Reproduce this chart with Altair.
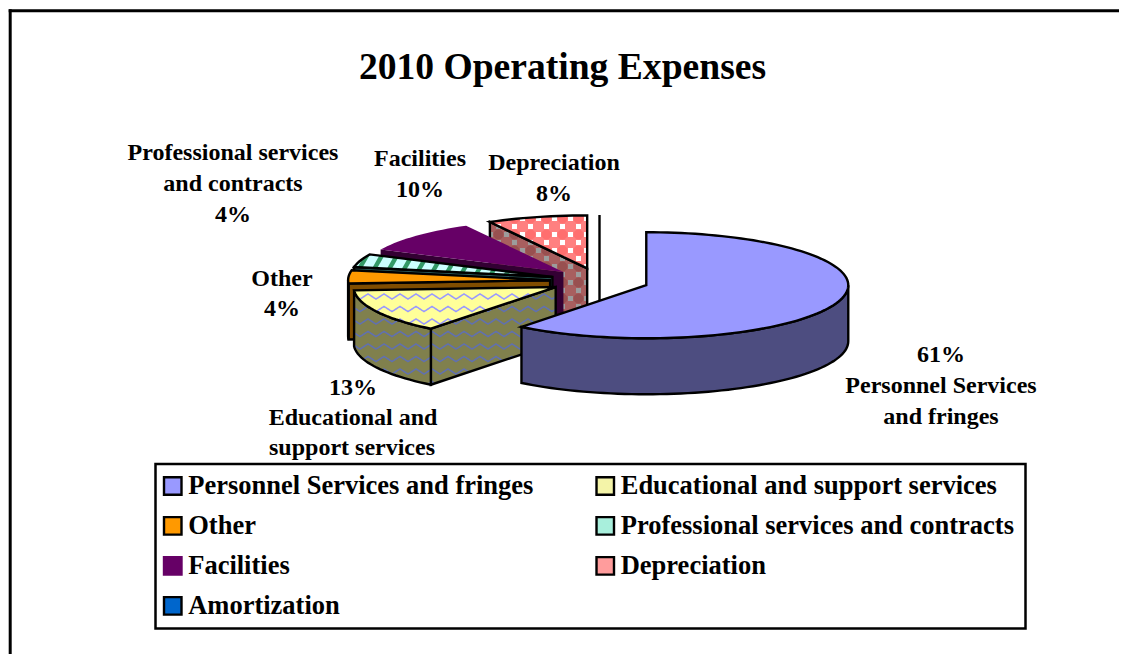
import math
import altair as alt

# ---- data ----
NAMES = ["Personnel Services and fringes", "Educational and support services", "Other",
         "Professional services and contracts", "Facilities", "Depreciation", "Amortization"]
VALUES = [60.6, 13.4, 4, 4, 10, 8, 0]
LEGEND_COLORS = ["#9999FF", "#F4F4A8", "#FF9900", "#A8EFDC", "#660066", "#FF9C9C", "#0066CC"]
LEGEND_STROKES = ["#000000", "#000000", "#000000", "#000000", "#660066", "#000000", "#000000"]
TOPS = ["#9999FF", "#FFFF99", "#FF9900", "#CCFFFF", "#660066", "#FF8080", "#0066CC"]
SIDES = ["#4D4D80", "#80804D", "#804D00", "#2F5F5F", "#330033", "#A85F5F", "#003366"]
OUTLINE = ["#000000", "#000000", "#000000", "#000000", "none", "#000000", "#000000"]
TITLE = "2010 Operating Expenses"
PCT = [f"{round(v)}%" for v in VALUES]
LABELS = [
    ("Professional services", 225, 145), ("and contracts", 225, 176), (PCT[3], 225, 207),
    ("Facilities", 412, 151), (PCT[4], 412, 182),
    ("Depreciation", 546, 155), (PCT[5], 546, 186),
    ("Other", 274, 271), (PCT[2], 274, 301),
    (PCT[1], 345, 380), ("Educational and", 345, 410), ("support services", 344, 440),
    (PCT[0], 933, 347), ("Personnel Services", 933, 378), ("and fringes", 933, 409),
]
FONT = "Liberation Serif"

# ---- exploded 3-D pie geometry, all in chart pixels ----
CX, CY, RX, RY, DEPTH, EXPLODE = 591.5, 273.0, 202.0, 53.0, 56.0, 0.245
LINE_W = 2.4


def pt(c, a):
    r = math.radians(a)
    return (c[0] + RX * math.sin(r), c[1] - RY * math.cos(r))


def down(p):
    return (p[0], p[1] + DEPTH)


def clip_convex(subject, poly):
    gx = sum(p[0] for p in poly) / len(poly)
    gy = sum(p[1] for p in poly) / len(poly)
    out = list(subject)
    n = len(poly)
    for i in range(n):
        a, b = poly[i], poly[(i + 1) % n]
        if abs(a[0] - b[0]) + abs(a[1] - b[1]) < 1e-6:
            continue
        side = lambda p: (b[0] - a[0]) * (p[1] - a[1]) - (b[1] - a[1]) * (p[0] - a[0])
        sg = 1 if side((gx, gy)) >= 0 else -1
        res = []
        for j in range(len(out)):
            p, q = out[j], out[(j + 1) % len(out)]
            sp, sq = side(p) * sg, side(q) * sg
            if sp >= 0:
                res.append(p)
            if (sp >= 0) != (sq >= 0):
                t = sp / (sp - sq)
                res.append((p[0] + t * (q[0] - p[0]), p[1] + t * (q[1] - p[1])))
        out = res
        if not out:
            return []
    return out


def inside(p, poly):
    hit = False
    n = len(poly)
    for i in range(n):
        a, b = poly[i], poly[(i + 1) % n]
        if (a[1] > p[1]) != (b[1] > p[1]):
            if p[0] < a[0] + (p[1] - a[1]) * (b[0] - a[0]) / (b[1] - a[1]):
                hit = not hit
    return hit


features = []


def rnd(points):
    return [[round(x, 2), round(y, 2)] for x, y in points]


def add(geom, fill="none", stroke="none", sw=0):
    features.append({"type": "Feature", "geometry": geom,
                     "properties": {"fill": fill, "stroke": stroke, "sw": sw}})


def add_poly(points, fill="none", stroke="none", sw=0):
    add({"type": "Polygon", "coordinates": [rnd(points + [points[0]])]}, fill, stroke, sw)


def waves(poly, color):
    xs = [p[0] for p in poly]
    ys = [p[1] for p in poly]
    lines = []
    y0 = 226.0
    while y0 < max(ys) + 6:
        cur = []
        x = math.floor(min(xs)) - 1
        while x <= max(xs) + 1:
            ph = (x % 16) / 16
            y = y0 + 2.6 * (4 * abs(ph - 0.5) - 1)
            if inside((x, y), poly):
                cur.append((x, y))
            else:
                if len(cur) > 1:
                    lines.append(rnd(cur))
                cur = []
            x += 1
        if len(cur) > 1:
            lines.append(rnd(cur))
        y0 += 12.5
    if lines:
        add({"type": "MultiLineString", "coordinates": lines}, "none", color, 1.6)


def stripes(poly, color):
    for k in range(200, 760, 15):
        q = [(k, 180), (k + 5, 180), (k + 5 - 80, 320), (k - 80, 320)]
        c = clip_convex(q, poly)
        if len(c) > 2:
            add_poly(c, color)


def dots(poly, light, blob):
    for i in range(40, 100):
        for j in range(20, 50):
            if (i + j) % 2 == 0:
                x, y = i * 8.0, j * 8.0
                q = [(x, y), (x + 5, y), (x + 5, y + 5), (x, y + 5)]
                c = clip_convex(q, poly)
                if len(c) > 2:
                    add_poly(c, light)
    for i in range(20, 50):
        for j in range(10, 25):
            x, y = (2 * i + 1) * 8.0 + 2.5, 2 * j * 8.0 + 2.5
            q = [(x + 5 * math.cos(t * math.pi / 6), y + 5 * math.sin(t * math.pi / 6)) for t in range(12)]
            c = clip_convex(q, poly)
            if len(c) > 2:
                add_poly(c, blob)


def face(points, fill, outline, idx, convex=True):
    add_poly(points, fill)
    if idx == 1:
        waves(points, "#6070B0" if fill == SIDES[1] else "#9999FF")
    elif idx == 3 and fill == TOPS[3]:
        stripes(points, "#339966")
    elif idx == 5 and convex:
        if fill == TOPS[5]:
            dots(points, "#FFFFFF", "#FF6F6F")
        else:
            dots(points, "#9C9C9C", "#985050")
    if outline != "none":
        add_poly(points, "none", outline, LINE_W)


total = sum(VALUES)
spans = []
start = 0.0
for v in VALUES:
    spans.append((start, start + 360.0 * v / total))
    start += 360.0 * v / total

# legend frame, behind the native legend
add_poly([(147.5, 456), (1017.5, 456), (1017.5, 620.5), (147.5, 620.5)], "#FFFFFF", "#000000", 2.5)

# paint from the back of the pie to the front
for i in [6, 5, 4, 3, 2, 1, 0]:
    a0, a1 = spans[i]
    mid = math.radians((a0 + a1) / 2)
    c = (CX + EXPLODE * RX * math.sin(mid), CY - EXPLODE * RY * math.cos(mid))
    line = OUTLINE[i]
    if VALUES[i] == 0:
        add({"type": "LineString", "coordinates": rnd([pt(c, a0), down(c)])}, "none", line, LINE_W)
        continue
    if math.sin(math.radians(a0)) < -1e-6:
        p = pt(c, a0)
        face([c, p, down(p), down(c)], SIDES[i], line, i)
    if math.sin(math.radians(a1)) > 1e-6:
        p = pt(c, a1)
        face([c, p, down(p), down(c)], SIDES[i], line, i)
    lo, hi = max(a0, 90.0), min(a1, 270.0)
    if hi > lo:
        n = max(2, int((hi - lo) / 2))
        arc = [pt(c, lo + (hi - lo) * k / n) for k in range(n + 1)]
        face(arc + [down(p) for p in reversed(arc)], SIDES[i], line, i, convex=False)
    n = max(2, int((a1 - a0) / 2))
    top = [c] + [pt(c, a0 + (a1 - a0) * k / n) for k in range(n + 1)]
    face(top, TOPS[i], line, i)

pie = (
    alt.Chart(alt.Data(values=features))
    .mark_geoshape()
    .encode(
        fill=alt.Fill("properties.fill:N", scale=None),
        stroke=alt.Stroke("properties.stroke:N", scale=None),
        strokeWidth=alt.StrokeWidth("properties.sw:Q", scale=None),
    )
    .project(type="identity", scale=1, translate=[0, 0])
)

labels = (
    alt.Chart(alt.Data(values=[{"t": t, "x": x, "y": y} for t, x, y in LABELS]))
    .mark_text(font=FONT, fontSize=24, fontWeight="bold", color="black", baseline="middle", align="center")
    .encode(x=alt.X("x:Q", scale=None), y=alt.Y("y:Q", scale=None), text="t:N")
)

title = (
    alt.Chart(alt.Data(values=[{"t": TITLE}]))
    .mark_text(font=FONT, fontSize=37.6, fontWeight="bold", color="black", baseline="alphabetic", align="center")
    .encode(x=alt.value(554.5), y=alt.value(71), text="t:N")
)

legend = alt.Legend(
    orient="none", legendX=151.5, legendY=464.6, columns=2, direction="horizontal", title=None,
    labelFont=FONT, labelFontSize=26.5, labelFontWeight="bold", labelColor="black", labelLimit=600,
    symbolType="square", symbolSize=306, symbolStrokeWidth=2.4,
    padding=0, rowPadding=12, columnPadding=57.5, labelOffset=2.2,
)
legend_layer = (
    alt.Chart(alt.Data(values=[{"name": n} for n in NAMES]))
    .mark_square(filled=True, size=100, opacity=1)
    .encode(
        x=alt.value(-200), y=alt.value(-200),
        fill=alt.Fill("name:N", scale=alt.Scale(domain=NAMES, range=LEGEND_COLORS), legend=legend),
        stroke=alt.Stroke("name:N", scale=alt.Scale(domain=NAMES, range=LEGEND_STROKES), legend=legend),
    )
)

frame_top = alt.Chart(alt.Data(values=[{"a": 0}])).mark_rule(color="black", strokeWidth=3).encode(
    x=alt.value(0.7), x2=alt.value(1111), y=alt.value(2.7))
frame_left = alt.Chart(alt.Data(values=[{"a": 0}])).mark_rule(color="black", strokeWidth=3).encode(
    x=alt.value(2.2), y=alt.value(1.2), y2=alt.value(646))

chart = (
    alt.layer(pie, labels, title, legend_layer, frame_top, frame_left)
    .resolve_scale(x="independent", y="independent")
    .properties(
        width=1111, height=646, padding=0, autosize=alt.AutoSizeParams(type="none"),
        background="white",
    )
    .configure_view(stroke=None)
)
chart.save("out.html", embed_options={"renderer": "svg", "actions": False})
